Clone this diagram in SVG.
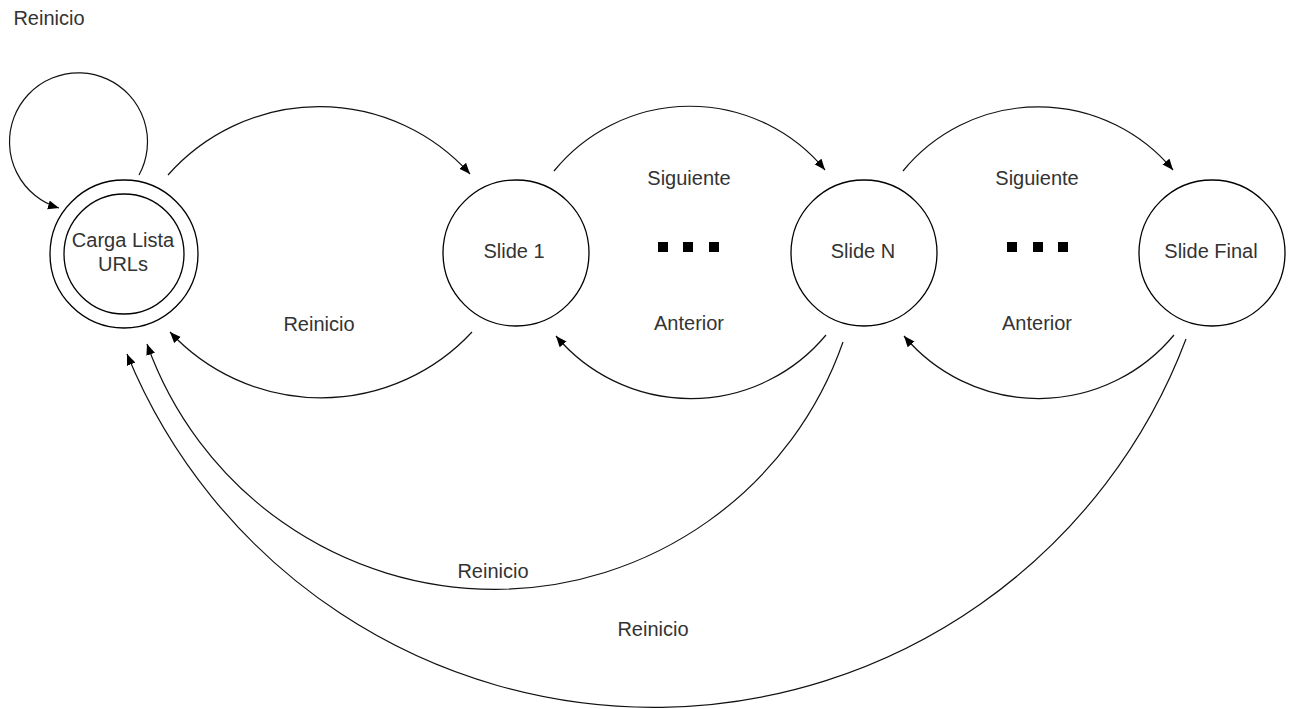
<svg xmlns="http://www.w3.org/2000/svg" width="1289" height="709" viewBox="0 0 1289 709">
<style>
.node{fill:#fff;stroke:#000;stroke-width:1.3}
.lbl{font-family:"Liberation Sans",Arial,sans-serif;font-size:20px;fill:#333;text-anchor:middle}
.edge{fill:none;stroke:#111;stroke-width:1.2;marker-end:url(#arr)}
.dot{fill:#000}
</style>
<defs>
<marker id="arr" markerUnits="userSpaceOnUse" markerWidth="12" markerHeight="10" refX="11" refY="4.5" orient="auto">
<path d="M0,0 L11,4.5 L0,9 z" fill="#000"/>
</marker>
</defs>
<rect width="1289" height="709" fill="#fff"/>
<g id="connectors">
<path class="edge" d="M139,175 A69,69 0 1 0 59,208"/>
<path class="edge" d="M168,175 A202,202 0 0 1 470,174"/>
<path class="edge" d="M472,332 A206,206 0 0 1 170,332"/>
<path class="edge" d="M554,171 A175,175 0 0 1 825,170"/>
<path class="edge" d="M826,335 A176,176 0 0 1 556,336"/>
<path class="edge" d="M903,171 A175,175 0 0 1 1173,170"/>
<path class="edge" d="M1174,335 A176,176 0 0 1 904,336"/>
<path class="edge" d="M843,342 A369,369 0 0 1 147,344"/>
<path class="edge" d="M1186,339 A569,569 0 0 1 127,354"/>
</g>
<g id="labels">
<text class="lbl" x="49" y="25">Reinicio</text>
<text class="lbl" x="319" y="331">Reinicio</text>
<text class="lbl" x="493" y="578">Reinicio</text>
<text class="lbl" x="653" y="636">Reinicio</text>
<text class="lbl" x="689" y="185">Siguiente</text>
<text class="lbl" x="1037" y="185">Siguiente</text>
<text class="lbl" x="689" y="330">Anterior</text>
<text class="lbl" x="1037" y="330">Anterior</text>
<rect class="dot" x="658" y="242" width="10" height="10"/>
<rect class="dot" x="683" y="242" width="10" height="10"/>
<rect class="dot" x="709" y="242" width="10" height="10"/>
<rect class="dot" x="1007" y="242" width="10" height="10"/>
<rect class="dot" x="1033" y="242" width="10" height="10"/>
<rect class="dot" x="1058" y="242" width="10" height="10"/>
</g>
<g id="carga">
<circle class="node" cx="124" cy="254" r="74"/>
<circle class="node" cx="124" cy="254" r="60"/>
<text class="lbl" x="123" y="247">Carga Lista</text>
<text class="lbl" x="123" y="271">URLs</text>
</g>
<g id="slide1">
<circle class="node" cx="516" cy="253" r="73"/>
<text class="lbl" x="514" y="258">Slide 1</text>
</g>
<g id="slideN">
<circle class="node" cx="864" cy="253" r="73"/>
<text class="lbl" x="863" y="258">Slide N</text>
</g>
<g id="slideFinal">
<circle class="node" cx="1212" cy="253" r="73"/>
<text class="lbl" x="1211" y="258">Slide Final</text>
</g>
</svg>
